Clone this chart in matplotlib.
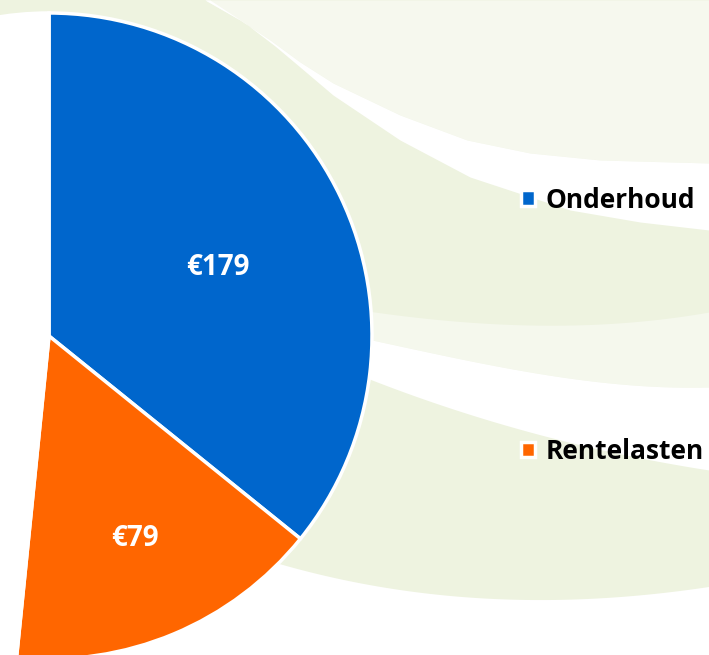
import numpy as np
import matplotlib
matplotlib.use("Agg")
import matplotlib.pyplot as plt

# ------------------------------------------------------------------ data
LABELS = ["Onderhoud", "Rentelasten", "Overig"]
VALUES = [179, 79, 242]          # last slice is off-canvas / white in the original
COLORS = ["#0066cc", "#ff6600", "#ffffff"]
SHOWN = 2                        # only the first two slices get labels + legend
LABEL_DIST = [0.565, 0.68]       # radial position of the value labels
LABEL_TURN = [-3.4, 0.4]         # small angular nudge [deg] from the slice middle

W, H = 709, 655


def curve(pts, xs, deg=3):
    """Smooth edge through a few control points (pixel coords, y down) -> y up."""
    px, py = zip(*pts)
    if deg is None:
        return H - np.interp(xs, px, py)
    return H - np.polyval(np.polyfit(px, py, deg), xs)


def band(ax, upper, lower, x0, x1, color, deg=3):
    xs = np.linspace(x0, x1, 400)
    ax.fill_between(xs, curve(upper, xs, deg), curve(lower, xs, deg),
                    color=color, lw=0, zorder=0)


def main():
    fig = plt.figure(figsize=(W / 100, H / 100), dpi=100)
    ax = fig.add_axes([0, 0, 1, 1])

    # ---- decorative background (swooshes)
    xs = np.linspace(0, W, 300)
    green_bottom = [(250, 555), (400, 590), (530, 600), (709, 587)]
    ax.fill_between(xs, H, curve(green_bottom, xs), color="#eef3e0", lw=0, zorder=0)
    band1_up = [(205, 0), (240, 20), (270, 40), (300, 62), (333, 83), (400, 115),
                (467, 140), (530, 153), (600, 160), (709, 163)]
    band1_lo = [(210, 0), (245, 23), (275, 46), (300, 67), (333, 95), (400, 140),
                (470, 177), (570, 210), (640, 222), (709, 230)]
    xb = np.linspace(205, W, 400)
    ax.fill_between(xb, H, curve(band1_up, xb, None), color="#f6f8ee", lw=0, zorder=0)
    band(ax, band1_up, band1_lo, 205, W, "white", None)
    pale_up = [(300, 300), (530, 325), (709, 312)]
    band2_up = [(300, 325), (372, 340), (530, 372), (709, 387)]
    band2_lo = [(300, 350), (372, 380), (530, 432), (709, 470)]
    band(ax, pale_up, band2_up, 300, W, "#f5f8ed")
    band(ax, band2_up, band2_lo, 300, W, "white")

    # ---- pie
    wedges, _ = ax.pie(VALUES, colors=COLORS, startangle=90, counterclock=False,
                       center=(49, H - 336), radius=323, frame=True,
                       wedgeprops=dict(edgecolor="white", linewidth=2.5))
    for w in wedges:
        w.set_zorder(2)
    ax.set_xlim(0, W)
    ax.set_ylim(0, H)
    ax.set_aspect("equal")
    ax.axis("off")

    for w, v, d, t in zip(wedges[:SHOWN], VALUES[:SHOWN], LABEL_DIST, LABEL_TURN):
        th = np.deg2rad((w.theta1 + w.theta2) / 2 + t)
        cx, cy = w.center
        ax.text(cx + d * w.r * np.cos(th), cy + d * w.r * np.sin(th), f"€{v}",
                ha="center", va="center", color="white", fontsize=20,
                fontweight="bold", family="Open Sans", zorder=3)

    leg = ax.legend(wedges[:SHOWN], LABELS[:SHOWN], loc="upper left",
                    bbox_to_anchor=(510 / W, 1 - 176 / H), frameon=False,
                    prop=dict(family="Open Sans", weight="bold", size=19),
                    handlelength=0.55, handleheight=0.55, handletextpad=0.4,
                    labelspacing=8.5, borderaxespad=0)
    leg.set_zorder(4)

    fig.savefig("out.png", dpi=100)


if __name__ == "__main__":
    main()
